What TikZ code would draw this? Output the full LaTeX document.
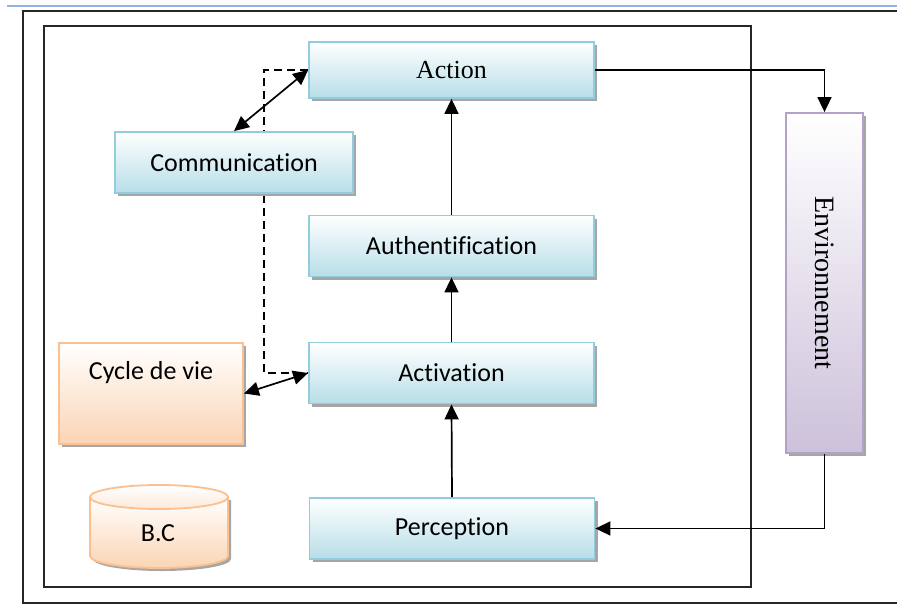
\documentclass[tikz,border=0pt]{standalone}
\usepackage{fontspec}
\setmainfont[Ligatures=NoCommon]{Carlito}
\newfontfamily\serifface{Liberation Serif}
\usetikzlibrary{arrows.meta,shadows}
\definecolor{bluebot}{HTML}{B7DEE8}
\definecolor{blueline}{HTML}{93CDDD}
\definecolor{orangebot}{HTML}{FBD4B4}
\definecolor{orangetop}{HTML}{FDE9D9}
\definecolor{orangeline}{HTML}{FAC090}
\definecolor{purplebot}{HTML}{CCC1DA}
\definecolor{purpleline}{HTML}{B3A2C7}
\definecolor{topline}{HTML}{8DB4E2}
\definecolor{shadowgray}{HTML}{A6A6A6}
\begin{document}
\begin{tikzpicture}[x=1pt,y=-1pt,
  shadowed/.style={drop shadow={shadow xshift=3pt,shadow yshift=-3pt,fill=shadowgray,opacity=1}},
  bluebox/.style={shadowed,draw=blueline,line width=1.8pt,top color=white,bottom color=bluebot,
    inner sep=0pt,minimum width=285pt,minimum height=61pt,font=\fontsize{26}{30}\selectfont},
  orangebox/.style={shadowed,draw=orangeline,line width=1.8pt,top color=white,bottom color=orangebot,
    inner sep=0pt,minimum width=184pt,minimum height=101pt},
  purplebox/.style={shadowed,draw=purpleline,line width=1.8pt,top color=white,bottom color=purplebot,
    inner sep=0pt,minimum width=77pt,minimum height=340pt},
  label26/.style={font=\fontsize{26}{30}\selectfont,inner sep=0pt},
  frame/.style={draw=black!85,line width=1.8pt},
  conn/.style={draw=black,line width=1.7pt},
  arr/.style={conn,-{Triangle[length=15pt,width=14pt]}},
  darr/.style={conn,{Triangle[length=15pt,width=14pt]}-{Triangle[length=15pt,width=14pt]}},
  dashline/.style={draw=black,line width=2.2pt,dash pattern=on 8pt off 5pt}
]
\useasboundingbox (0,0) rectangle (897,606);
% top blue rule and frames
\coordinate (tl1) at (7,6);
\coordinate (tl2) at (897,6);
\draw[topline,line width=1.5pt] (tl1) -- (tl2);
\coordinate (of1) at (900,11);
\coordinate (of2) at (23,11);
\coordinate (of3) at (23,603);
\coordinate (of4) at (900,603);
\draw[frame] (of1) -- (of2) -- (of3) -- (of4);
\coordinate (if1) at (44,26);
\coordinate (if2) at (751,587);
\draw[frame] (if1) rectangle (if2);

% boxes
\node[bluebox,minimum height=56pt,font=\serifface\fontsize{26}{30}\selectfont] (act) at (451.5,70) {Action};
\node[bluebox] (aut) at (451.5,246) {Authentification};
\node[bluebox] (acv) at (451.5,373) {Activation};
\node[bluebox] (per) at (452,528.5) {Perception};

% dashed link (behind Communication)
\coordinate (d1) at (264,70);
\coordinate (d2) at (264,373);
\draw[dashline] (act.west) -- (d1) -- (d2) -- (acv.west);

\node[bluebox,minimum width=238pt] (com) at (234,162.5) {Communication};
\node[orangebox] (cyc) at (151,393.5) {};
\node[label26] (cyctxt) at (151,373) {Cycle de vie};
\node[purplebox] (env) at (824.5,283) {};
\node[inner sep=0pt,rotate=-90,font=\serifface\fontsize{28}{30}\selectfont] (envtxt) at (env.center) {Environnement};

% cylinder B.C
\fill[shadowgray] (93,500) -- (93,559) .. controls (93,565.6) and (123.9,571) .. (162,571)
  .. controls (200.1,571) and (231,565.6) .. (231,559) -- (231,500) -- cycle;
\shade[top color=white,bottom color=orangebot,draw=orangeline,line width=1.8pt]
  (90,497) -- (90,556) .. controls (90,562.6) and (120.9,568) .. (159,568)
  .. controls (197.1,568) and (228,562.6) .. (228,556) -- (228,497) -- cycle;
\shade[top color=white,bottom color=orangetop,draw=orangeline,line width=1.8pt]
  (159,497) ellipse [x radius=69, y radius=12];
\node[label26] (bc) at (158,533) {B.C};

% connectors
\draw[arr] (per.north) -- (acv.south);
\draw[arr] (acv.north) -- (aut.south);
\draw[arr] (aut.north) -- (act.south);
\draw[arr] (act.east) -| (env.north);
\draw[arr] (env.south) |- (per.east);
\draw[darr] (com.north) -- (act.west);
\draw[darr] (cyc.east) -- (acv.west);
\end{tikzpicture}
\end{document}
